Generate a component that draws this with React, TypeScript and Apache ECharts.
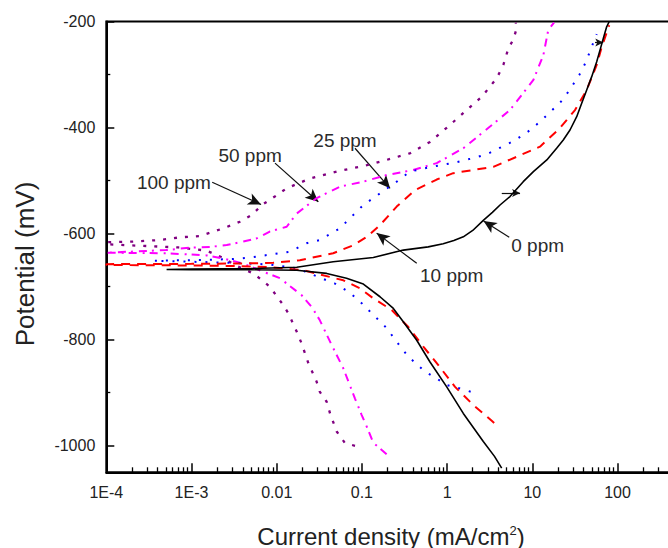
import React, { useEffect, useRef } from 'react';
import * as echarts from 'echarts';

// ---- axis ticks ----
const xTickLabels = ['1E-4', '1E-3', '0.01', '0.1', '1', '10', '100'];
const yTickValues = [-1000, -800, -600, -400, -200];
const yMinorTickValues = [-900, -700, -500, -300];

// ---- series: [current density (mA/cm2), potential (mV)] ----
const seriesNames = ['0 ppm', '10 ppm', '25 ppm', '50 ppm', '100 ppm'];

const ppm0: [number, number][] = [
  [4.37, -1042], [3.6, -1020], [2.66, -992], [1.55, -939], [0.99, -889], [0.63, -842],
  [0.44, -801], [0.306, -766], [0.234, -741], [0.163, -719], [0.104, -695], [0.066, -684],
  [0.0386, -675], [0.0172, -669], [5e-3, -668], [1e-3, -668], [5.1e-4, -667.5], [1e-3, -667],
  [5e-3, -666], [0.0172, -663.5], [0.046, -653], [0.136, -645], [0.306, -631], [0.6, -625],
  [0.9, -619], [1.2, -613], [1.55, -606], [2.0, -594], [2.66, -575], [3.4, -560], [4.18, -546],
  [5.47, -530], [7.83, -502], [10.3, -483], [14.8, -461], [19.3, -439], [23.1, -423.5],
  [27.7, -404.6], [33.2, -379.5], [38, -354], [43.5, -329], [49.8, -304], [57, -276],
  [62.3, -254], [68.1, -232], [74.6, -210], [80, -200],
];

const ppm10: [number, number][] = [
  [3.57, -957], [3.34, -953], [2.03, -923], [1.24, -889], [0.789, -848], [0.526, -813],
  [0.351, -776], [0.224, -744], [0.136, -722], [0.095, -703], [0.0605, -688], [0.0205, -669],
  [8e-3, -663], [3e-3, -661], [1e-3, -660], [1e-4, -659],
  [1e-4, -657.5], [1e-3, -657], [5e-3, -656], [9.1e-3, -655], [0.0187, -650], [0.046, -637],
  [0.079, -622], [0.114, -606], [0.163, -584], [0.256, -549], [0.42, -518], [0.755, -498],
  [1.18, -486], [2.03, -480], [3.49, -474], [6.56, -455], [12.3, -436], [21.1, -401],
  [31.7, -367], [43.5, -329], [57, -282], [65.3, -248], [80, -207],
];

const ppm25: [number, number][] = [
  [1.89, -898], [1.42, -892], [0.97, -885], [0.755, -873], [0.551, -860], [0.351, -832],
  [0.256, -804], [0.195, -778], [0.136, -753], [0.091, -725], [0.069, -709], [0.048, -694],
  [0.027, -678], [0.0172, -665], [8e-3, -658], [3e-3, -655], [1e-3, -653], [3.6e-4, -651],
  [1e-3, -650], [3e-3, -648], [4.9e-3, -645], [0.0143, -634], [0.0225, -618], [0.032, -612],
  [0.055, -590], [0.104, -546], [0.136, -533], [0.256, -502], [0.366, -483], [0.659, -474],
  [1.24, -466], [2.22, -456], [3.05, -449], [6.27, -424], [9.4, -405], [12.9, -386],
  [22.7, -348], [28.2, -326], [35.6, -301], [42.7, -276], [48.8, -251], [57, -224],
];

const ppm50: [number, number][] = [
  [0.195, -1016], [0.136, -994], [0.114, -964], [0.0995, -942], [0.083, -911], [0.0605, -854],
  [0.0442, -810], [0.032, -763], [0.0257, -738], [0.0196, -716], [0.0109, -684], [7e-3, -672],
  [4e-3, -656], [2.5e-3, -648], [1.5e-3, -641], [5e-4, -637], [1e-4, -636],
  [1e-4, -635], [5e-4, -631], [9.6e-4, -626.5], [1.65e-3, -625], [2.59e-3, -621.5],
  [4.06e-3, -615], [5.8e-3, -609], [8.3e-3, -596], [0.0131, -587], [0.0172, -562],
  [0.0294, -533], [0.055, -511.5], [0.104, -502], [0.195, -489.5], [0.4, -480], [0.755, -467],
  [1.55, -439], [3.19, -398], [5.47, -367], [10.3, -310], [13.5, -263], [15.4, -216], [18, -202],
];

const ppm100: [number, number][] = [
  [0.083, -1000], [0.0634, -995], [0.0506, -973], [0.0423, -939], [0.0386, -917], [0.032, -898],
  [0.0294, -879], [0.0235, -844], [0.0196, -807], [0.0172, -785], [0.0137, -750], [0.0115, -731],
  [8.3e-3, -700], [6.7e-3, -687.5], [5.3e-3, -675], [3.5e-3, -662], [2.3e-3, -645],
  [1.5e-3, -632], [7e-4, -626], [1e-4, -620],
  [1e-4, -616], [2e-4, -615], [4.3e-4, -612], [7.3e-4, -607], [1.26e-3, -604.5],
  [2.36e-3, -590], [3.7e-3, -577.5], [5.1e-3, -565], [6.7e-3, -546], [9.5e-3, -530],
  [0.0131, -514.5], [0.0246, -496], [0.0506, -483], [0.114, -471], [0.195, -461],
  [0.366, -448.5], [0.63, -427], [1.03, -398], [1.7, -367], [2.55, -342], [3.82, -307],
  [4.57, -282], [5.23, -251], [5.98, -234], [6.56, -213], [6.4, -202],
];

// ---- annotations (data coordinates) ----
const labelTexts = ['100 ppm', '50 ppm', '25 ppm', '0 ppm', '10 ppm'];
const labelAnchors: [number, number][] = [
  [2.29e-4, -503], [2.07e-3, -452], [0.0269, -425], [5.66, -623], [0.481, -679],
];
const arrowStarts: [number, number][] = [
  [1.75e-3, -503], [9.55e-3, -467], [0.083, -439], [5.36, -607], [0.44, -656],
];
const arrowEnds: [number, number][] = [
  [6.55e-3, -545], [0.0308, -540], [0.214, -514.5], [2.68, -576], [0.149, -599],
];
const dirArrowStarts: [number, number][] = [[4.38, -523.4], [54.4, -239.6]];
const dirArrowEnds: [number, number][] = [[7.18, -523.4], [68.1, -239.6]];

const FONT = 'Liberation Sans, Arial, Helvetica, sans-serif';

export default function App() {
  const ref = useRef<HTMLDivElement>(null);

  useEffect(() => {
    if (!ref.current) return;
    const chart = echarts.init(ref.current, null, { renderer: 'svg' });

    const minorX: number[] = [];
    for (let e = -4; e < 3; e++) {
      for (let m = 2; m <= 9; m++) minorX.push(e + Math.log10(m));
    }

    const styles = [
      { color: '#000000', width: 1.6, type: 'solid' as any },
      { color: '#ff0000', width: 2, type: [9, 7] },
      { color: '#0000ff', width: 2, type: [2, 9] },
      { color: '#ff00ff', width: 2, type: [8, 5, 2, 6] },
      { color: '#800080', width: 2.3, type: [3, 8] },
    ];
    const datasets = [ppm0, ppm10, ppm25, ppm50, ppm100];

    const series: any[] = datasets.map((d, i) => ({
      name: seriesNames[i],
      type: 'line',
      xAxisIndex: 0,
      yAxisIndex: 0,
      data: d,
      showSymbol: false,
      symbol: 'none',
      silent: true,
      z: 10 - i,
      lineStyle: styles[i],
    }));

    series[0].markLine = {
      silent: true,
      animation: false,
      symbol: ['none', 'arrow'],
      symbolSize: [9, 13],
      lineStyle: { color: '#111', width: 1.2, type: 'solid' },
      label: { show: false },
      data: [
        ...arrowStarts.map((s, i) => [{ coord: s }, { coord: arrowEnds[i] }]),
        ...dirArrowStarts.map((s, i) => [
          { coord: s },
          { coord: dirArrowEnds[i], symbolSize: [6, 8] },
        ]),
      ],
    };

    const option: any = {
      animation: false,
      backgroundColor: '#ffffff',
      grid: {
        left: 106.3,
        top: 21.5,
        right: 17.3,
        bottom: 75.7,
        show: true,
        borderColor: '#000',
        borderWidth: 2,
        backgroundColor: 'transparent',
      },
      xAxis: [
        {
          type: 'log',
          logBase: 10,
          min: 1e-4,
          max: 1000,
          position: 'bottom',
          axisLine: { show: true, onZero: false, lineStyle: { color: '#000', width: 2 } },
          axisTick: { show: true, inside: true, length: 9, lineStyle: { color: '#000', width: 1.5 } },
          minorTick: { show: false },
          splitLine: { show: false },
          minorSplitLine: { show: false },
          axisLabel: {
            margin: 12,
            color: '#222',
            fontFamily: FONT,
            fontSize: 16,
            formatter: (v: number) => xTickLabels[Math.round(Math.log10(v)) + 4] ?? '',
          },
        },
        {
          type: 'value',
          min: -4,
          max: 3,
          position: 'bottom',
          axisLine: { show: false, onZero: false },
          axisTick: {
            show: true,
            inside: true,
            length: 5,
            customValues: minorX,
            lineStyle: { color: '#000', width: 1.3 },
          },
          axisLabel: { show: false },
          splitLine: { show: false },
        },
      ],
      yAxis: [
        {
          type: 'value',
          min: -1050,
          max: -200,
          position: 'left',
          axisLine: { show: true, onZero: false, lineStyle: { color: '#000', width: 2 } },
          axisTick: {
            show: true,
            inside: true,
            length: 8,
            customValues: yTickValues,
            lineStyle: { color: '#000', width: 1.5 },
          },
          axisLabel: {
            customValues: yTickValues,
            margin: 11,
            color: '#222',
            fontFamily: FONT,
            fontSize: 16,
            formatter: (v: number) => String(v),
          },
          splitLine: { show: false },
        },
        {
          type: 'value',
          min: -1050,
          max: -200,
          position: 'left',
          axisLine: { show: false, onZero: false },
          axisTick: {
            show: true,
            inside: true,
            length: 4,
            customValues: yMinorTickValues,
            lineStyle: { color: '#000', width: 1.3 },
          },
          axisLabel: { show: false },
          splitLine: { show: false },
        },
      ],
      series,
    };

    chart.setOption(option);

    const graphics: any[] = labelTexts.map((t, i) => {
      const p = chart.convertToPixel({ seriesIndex: 0 }, labelAnchors[i]) as number[];
      return {
        type: 'text',
        x: p[0],
        y: p[1],
        silent: true,
        z: 100,
        style: {
          text: t,
          fill: '#2b2b2b',
          font: `19px ${FONT}`,
          align: 'left',
          verticalAlign: 'middle',
          textAlign: 'left',
          textVerticalAlign: 'middle',
        },
      };
    });

    graphics.push({
      type: 'text',
      x: 25,
      y: 264,
      rotation: Math.PI / 2,
      silent: true,
      style: {
        text: 'Potential (mV)',
        fill: '#222',
        font: `26px ${FONT}`,
        align: 'center',
        verticalAlign: 'middle',
        textAlign: 'center',
        textVerticalAlign: 'middle',
      },
    });
    graphics.push({
      type: 'text',
      x: 391,
      y: 536,
      silent: true,
      style: {
        text: 'Current density (mA/cm{sup|2})',
        fill: '#222',
        font: `24px ${FONT}`,
        align: 'center',
        verticalAlign: 'middle',
        textAlign: 'center',
        textVerticalAlign: 'middle',
        rich: {
          sup: { fontSize: 13, fontFamily: FONT, fill: '#222', verticalAlign: 'top' },
        },
      },
    });

    chart.setOption({ graphic: graphics });

    return () => {
      chart.dispose();
    };
  }, []);

  return (
    <div
      style={{
        position: 'fixed',
        left: 0,
        top: 0,
        width: 668,
        height: 548,
        overflow: 'hidden',
        background: '#fff',
      }}
    >
      <div ref={ref} style={{ width: 720, height: 548 }} />
    </div>
  );
}
